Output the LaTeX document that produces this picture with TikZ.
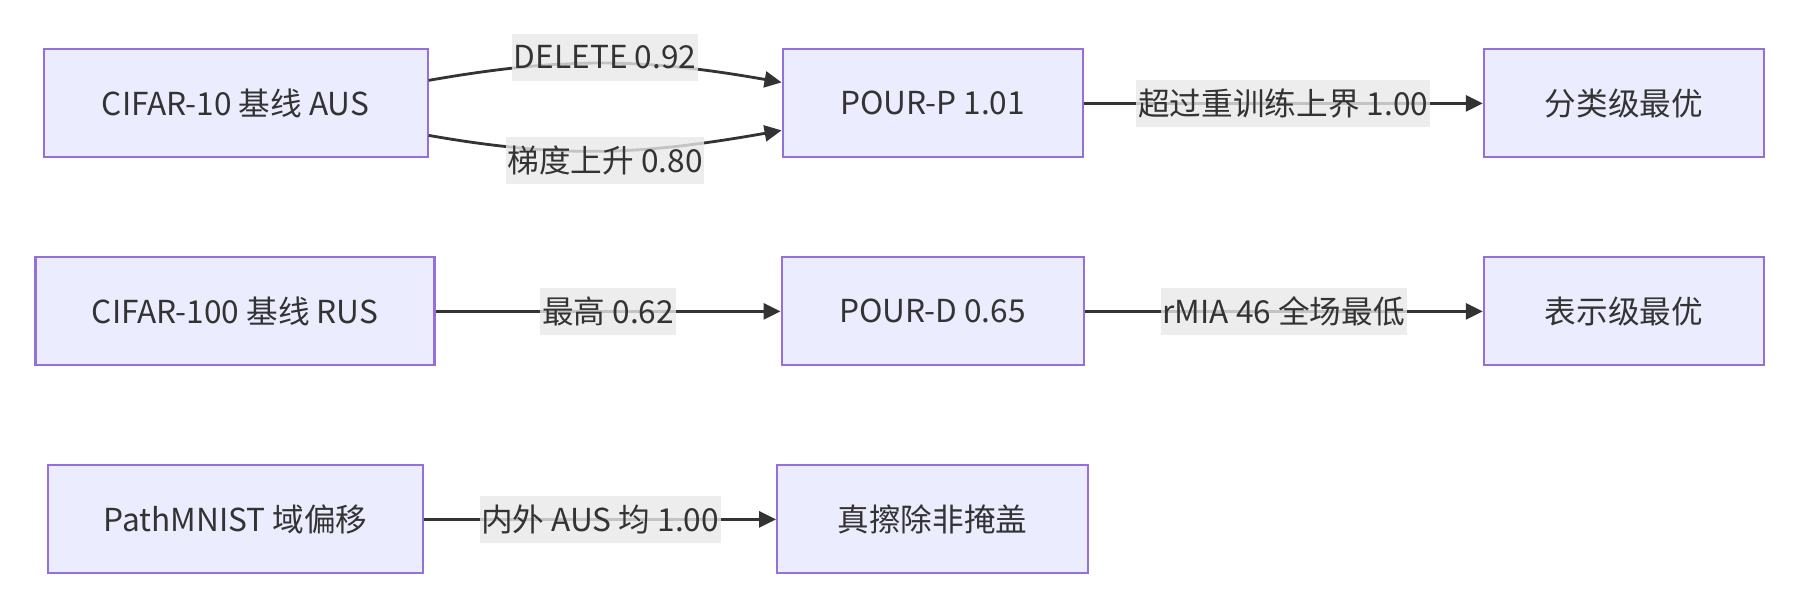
\documentclass[tikz,border=0pt]{standalone}
\usepackage{fontspec}
\setmainfont{Noto Sans CJK SC}
\usetikzlibrary{arrows.meta}
\definecolor{boxfill}{HTML}{ECECFF}
\definecolor{boxline}{HTML}{9370DB}
\definecolor{labelfill}{HTML}{E8E8E8}
\definecolor{linecol}{HTML}{333333}

\begin{document}
\begin{tikzpicture}
[boxnode/.style={rectangle, draw=boxline, fill=boxfill, line width=0.6pt, minimum height=10.8mm, text=linecol, font=\fontsize{9}{11}\selectfont},
edgelabel/.style={rectangle, fill=labelfill, fill opacity=0.8, text opacity=1, text=linecol, inner xsep=0.5pt, inner ysep=0pt, minimum height=4.7mm, font=\fontsize{9}{11}\selectfont},
connect/.style={-{Triangle[length=1.7mm,width=1.6mm]}, draw=linecol, line width=0.8pt}]
\useasboundingbox (0,0) rectangle (18.02,6.10);
\node[boxnode, minimum width=38.4mm]	(cifar10) at (2.356, 5.066) {CIFAR-10 基线 AUS};
\node[boxnode, minimum width=30mm]	(pourp) at (9.326, 5.066) {POUR-P 1.01};
\node[boxnode, minimum width=28mm]	(classbest) at (16.238, 5.066) {分类级最优};
\node[boxnode, minimum width=39.9mm]	(cifar100) at (2.35, 2.986) {CIFAR-100 基线 RUS};
\node[boxnode, minimum width=30.2mm]	(pourd) at (9.326, 2.986) {POUR-D 0.65};
\node[boxnode, minimum width=28mm]	(reprbest) at (16.238, 2.986) {表示级最优};
\node[boxnode, minimum width=37.5mm]	(pathmnist) at (2.356, 0.906) {PathMNIST 域偏移};
\node[boxnode, minimum width=31.1mm]	(trueerase) at (9.326, 0.906) {真擦除非掩盖};
\draw[connect] ([yshift=2.3mm]cifar10.east) to[out=10, in=170] node[edgelabel, yshift=0.6mm] (lbldelete) {DELETE 0.92} ([yshift=2.1mm]pourp.west);
\draw[connect] ([yshift=-3.2mm]cifar10.east) to[out=-10, in=190] node[edgelabel, yshift=-1mm] (lblascent) {梯度上升 0.80} ([yshift=-2.7mm]pourp.west);
\draw[connect] (pourp) -- node[edgelabel] (lblretrain) {超过重训练上界 1.00} (classbest);
\draw[connect] (cifar100) -- node[edgelabel] (lblhighest) {最高 0.62} (pourd);
\draw[connect] (pourd) -- node[edgelabel] (lblrmia) {rMIA 46 全场最低} (reprbest);
\draw[connect] (pathmnist) -- node[edgelabel] (lblinout) {内外 AUS 均 1.00} (trueerase);
\end{tikzpicture}
\end{document}
